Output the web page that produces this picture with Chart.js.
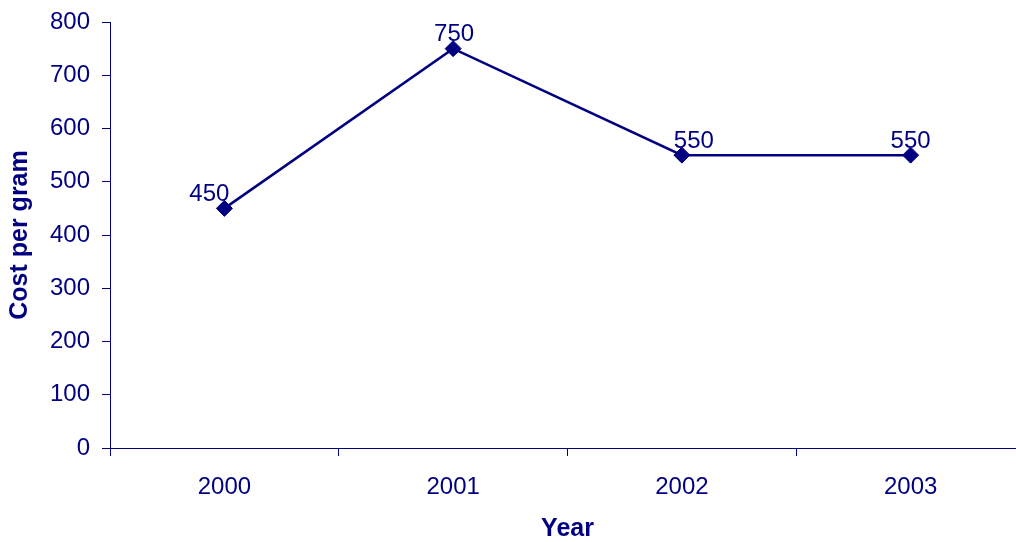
<!DOCTYPE html>
<html>
<head>
<meta charset="utf-8">
<script src="https://cdn.jsdelivr.net/npm/chart.js@4"></script>
<style>
  html, body { margin: 0; padding: 0; background: #fff; overflow: hidden; width: 1016px; height: 542px; }
  #wrap { position: absolute; left: 0; top: 0; width: 1034px; height: 542px; }
</style>
</head>
<body>
<div id="wrap"><canvas id="c" width="1034" height="542"></canvas></div>
<script>
// Data
const years = ['2000', '2001', '2002', '2003'];
const costs = [450, 750, 550, 550];
const yTicks = [0, 100, 200, 300, 400, 500, 600, 700, 800];

// Data label horizontal nudges (as placed in the reference)
const labelShift = [-15, 1, 12, 0];

const NAVY = '#000080';
const FONT = '"Liberation Sans", Arial, sans-serif';

const pointLabels = {
  id: 'pointLabels',
  afterDatasetsDraw(chart) {
    const ctx = chart.ctx;
    const meta = chart.getDatasetMeta(0);
    ctx.save();
    ctx.font = '24px ' + FONT;
    ctx.fillStyle = NAVY;
    ctx.textAlign = 'center';
    ctx.textBaseline = 'alphabetic';
    meta.data.forEach((pt, i) => {
      ctx.fillText(String(costs[i]), pt.x + labelShift[i], pt.y - 7.5);
    });
    ctx.restore();
  }
};

new Chart(document.getElementById('c'), {
  type: 'line',
  data: {
    labels: years,
    datasets: [{
      data: costs,
      borderColor: NAVY,
      backgroundColor: NAVY,
      borderWidth: 2.5,
      pointStyle: 'rectRot',
      pointRadius: 8,
      pointHoverRadius: 8,
      pointBackgroundColor: NAVY,
      pointBorderColor: NAVY,
      pointBorderWidth: 1,
      tension: 0,
      fill: false
    }]
  },
  options: {
    responsive: false,
    animation: false,
    events: [],
    layout: { padding: { top: 22, right: 5, bottom: 0, left: 0 } },
    plugins: { legend: { display: false }, tooltip: { enabled: false } },
    scales: {
      x: {
        type: 'category',
        offset: true,
        grid: { display: true, offset: true, drawOnChartArea: false, drawTicks: true, tickLength: 8, color: NAVY, lineWidth: 1 },
        border: { display: true, color: NAVY, width: 1 },
        ticks: { color: NAVY, font: { family: FONT, size: 24 }, padding: 17, maxRotation: 0, autoSkip: false },
        title: { display: true, text: 'Year', color: NAVY, font: { family: FONT, size: 25, weight: 'bold', lineHeight: 1 }, padding: { top: 0, bottom: 0 } },
        afterFit(s) { s.height = 94; s.paddingLeft = 0; s.paddingRight = 0; }
      },
      y: {
        min: 0,
        max: 800,
        afterBuildTicks(s) { s.ticks = yTicks.map(v => ({ value: v })); },
        grid: { display: true, drawOnChartArea: false, drawTicks: true, tickLength: 8, color: NAVY, lineWidth: 1 },
        border: { display: true, color: NAVY, width: 1 },
        ticks: { color: NAVY, font: { family: FONT, size: 24 }, padding: 12 },
        title: { display: true, text: 'Cost per gram', color: NAVY, font: { family: FONT, size: 25, weight: 'bold', lineHeight: 1 }, padding: { top: 8, bottom: 0 } },
        afterFit(s) { s.width = 110; s.paddingTop = 0; s.paddingBottom = 0; }
      }
    }
  },
  plugins: [pointLabels]
});
</script>
</body>
</html>
